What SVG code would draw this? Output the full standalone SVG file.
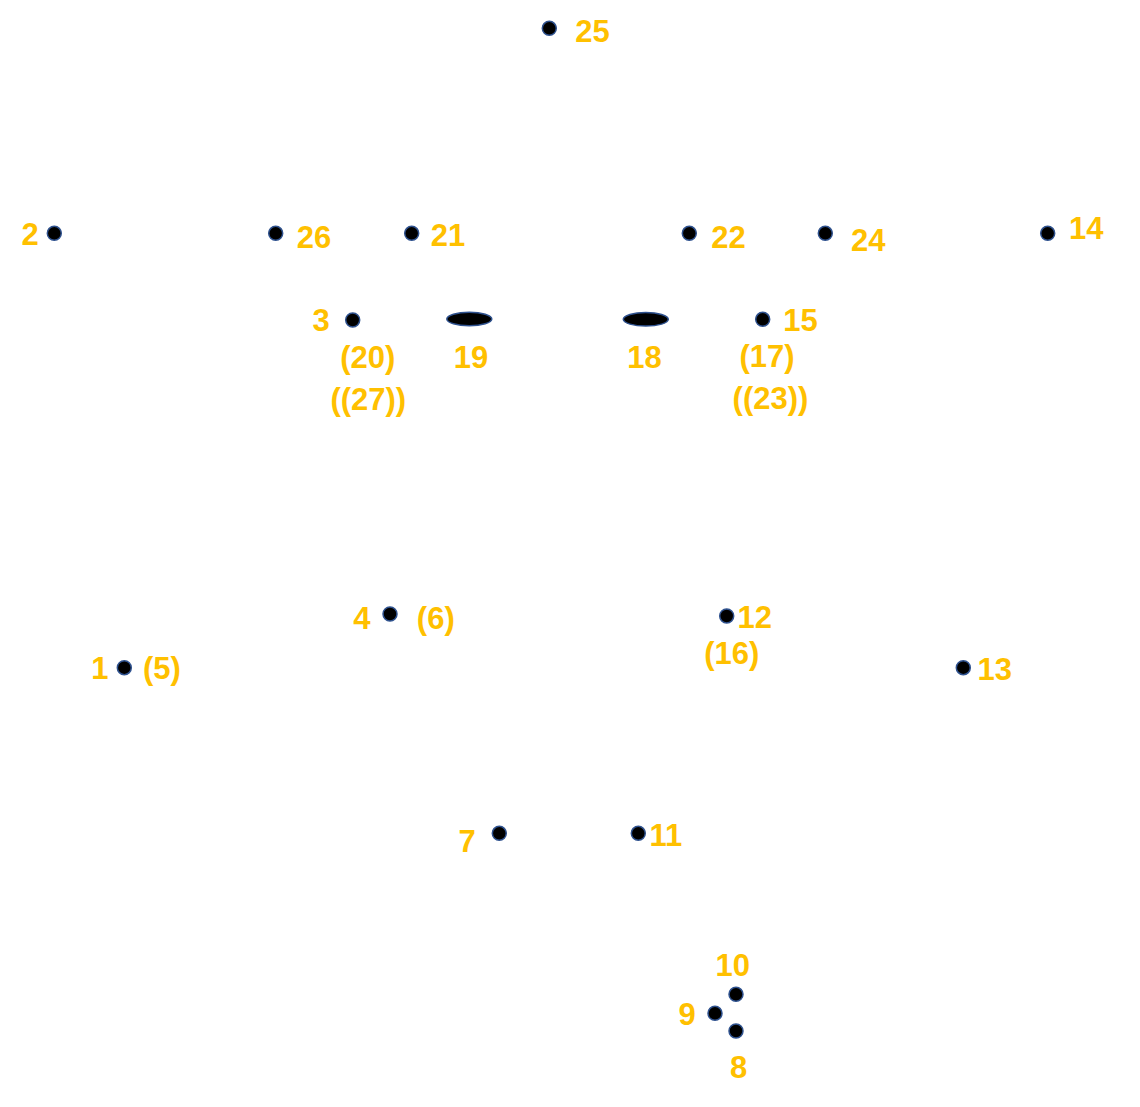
<svg xmlns="http://www.w3.org/2000/svg" width="1140" height="1107" viewBox="0 0 1140 1107">
<style>
.pt{fill:#000000;stroke:#2F528F;stroke-width:1.5}
.lb{font-family:"Liberation Sans",Arial,sans-serif;font-weight:bold;font-size:31px;fill:#FFC000;text-anchor:middle}
</style>
<rect width="1140" height="1107" fill="#ffffff"/>
<g id="connectors"></g>
<g id="n25"><circle class="pt" cx="549.3" cy="28.3" r="7"/><text class="lb" x="592.5" y="41.5">25</text></g>
<g id="n2"><circle class="pt" cx="54.3" cy="233.3" r="7"/><text class="lb" x="30" y="245">2</text></g>
<g id="n26"><circle class="pt" cx="275.7" cy="233.3" r="7"/><text class="lb" x="314" y="248">26</text></g>
<g id="n21"><circle class="pt" cx="411.7" cy="233.3" r="7"/><text class="lb" x="448" y="245.7">21</text></g>
<g id="n22"><circle class="pt" cx="689.3" cy="233.3" r="7"/><text class="lb" x="728.5" y="248">22</text></g>
<g id="n24"><circle class="pt" cx="825.3" cy="233.3" r="7"/><text class="lb" x="868.3" y="250.7">24</text></g>
<g id="n14"><circle class="pt" cx="1047.7" cy="233.3" r="7"/><text class="lb" x="1086.3" y="239">14</text></g>
<g id="n3"><circle class="pt" cx="352.7" cy="320" r="7"/><text class="lb" x="321" y="330.7">3</text><text class="lb" x="367.7" y="368.3">(20)</text><text class="lb" x="368.3" y="409.5">((27))</text></g>
<g id="n19"><ellipse class="pt" cx="469.3" cy="319" rx="22.5" ry="6.8"/><text class="lb" x="471" y="368.3">19</text></g>
<g id="n18"><ellipse class="pt" cx="645.8" cy="319.3" rx="22.5" ry="6.8"/><text class="lb" x="644.5" y="368.3">18</text></g>
<g id="n15"><circle class="pt" cx="762.7" cy="319.3" r="7"/><text class="lb" x="800.5" y="330.7">15</text><text class="lb" x="767" y="366.7">(17)</text><text class="lb" x="770.5" y="409">((23))</text></g>
<g id="n4"><circle class="pt" cx="390" cy="614" r="7"/><text class="lb" x="361.8" y="629">4</text><text class="lb" x="435.8" y="629">(6)</text></g>
<g id="n12"><circle class="pt" cx="726.7" cy="616" r="7"/><text class="lb" x="754.7" y="628.3">12</text><text class="lb" x="731.7" y="664">(16)</text></g>
<g id="n1"><circle class="pt" cx="124.3" cy="667.7" r="7"/><text class="lb" x="99.8" y="679">1</text><text class="lb" x="162" y="679">(5)</text></g>
<g id="n13"><circle class="pt" cx="963.3" cy="667.7" r="7"/><text class="lb" x="994.7" y="680">13</text></g>
<g id="n7"><circle class="pt" cx="499.3" cy="833.3" r="7"/><text class="lb" x="467.2" y="851.7">7</text></g>
<g id="n11"><circle class="pt" cx="638.3" cy="833.3" r="7"/><text class="lb" x="665.8" y="846">11</text></g>
<g id="n10"><circle class="pt" cx="736" cy="994.3" r="7"/><text class="lb" x="732.7" y="976">10</text></g>
<g id="n9"><circle class="pt" cx="715" cy="1013.3" r="7"/><text class="lb" x="687" y="1025">9</text></g>
<g id="n8"><circle class="pt" cx="736" cy="1031" r="7"/><text class="lb" x="738.7" y="1078.3">8</text></g>
</svg>
